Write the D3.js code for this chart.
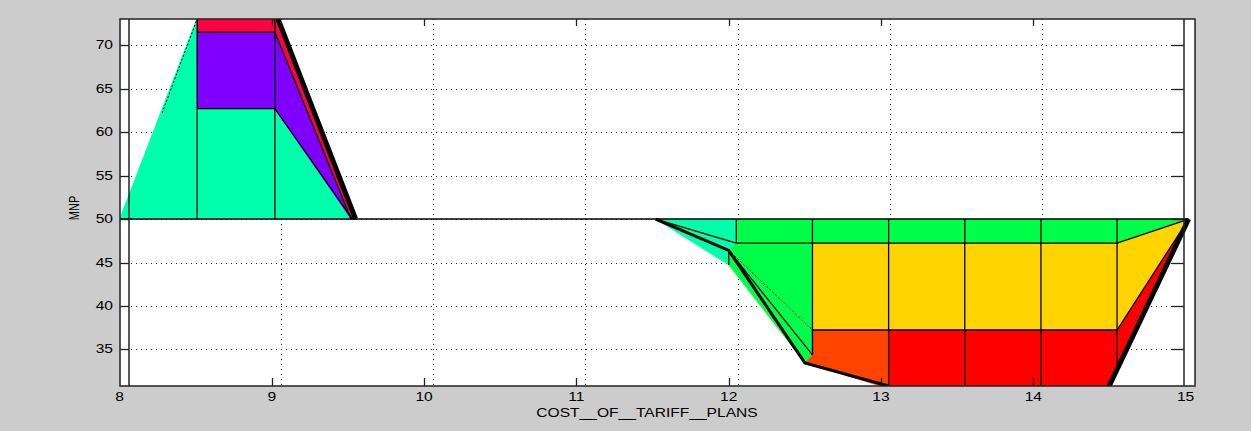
<!DOCTYPE html>
<html>
<head>
<meta charset="utf-8">
<script src="https://cdn.jsdelivr.net/npm/d3@7"></script>
<style>
  body { margin: 0; background: #cccccc; }
  svg { display: block; }
  text { font-family: "Liberation Sans", Arial, sans-serif; fill: #000; }
</style>
</head>
<body>
<svg id="chart" width="1251" height="431"></svg>
<script>
// tick values and labels
var xTicks = [8, 9, 10, 11, 12, 13, 14, 15];
var yTicks = [35, 40, 45, 50, 55, 60, 65, 70];
var xTitle = "COST__OF__TARIFF__PLANS";
var yTitle = "MNP";

// surface patches, [cost, mnp] (side view of the rule surface)
var cyanPeak = [[8, 50], [8.51, 73.2], [8.51, 62.7], [9.02, 62.7], [9.53, 50]];
var purplePeak = [[8.51, 62.7], [8.51, 71.5], [9.02, 71.5], [9.52, 50], [9.02, 62.7]];
var redPeak = [[8.51, 71.5], [8.51, 73.5], [9.03, 73.5], [9.55, 50], [9.52, 50], [9.02, 71.5]];

var cyanValley = [[11.52, 50], [12.05, 50], [12.05, 47.24], [12.0, 46.4], [12.0, 44.7]];
var greenValley = [[12.05, 50], [15.02, 50], [14.55, 47.24], [12.55, 47.24], [12.55, 34.37],
                   [12.5, 33.45], [12.0, 44.7], [12.0, 46.4], [12.05, 47.24]];
var yellowValley = [[12.55, 47.24], [14.55, 47.24], [15.02, 50], [14.55, 37.24], [12.55, 37.24]];
var orangeValley = [[12.55, 37.24], [13.05, 37.24], [13.05, 30.5], [12.5, 33.45], [12.55, 34.37]];
var redValley = [[13.05, 37.24], [14.55, 37.24], [15.02, 50], [14.5, 30.5], [13.05, 30.5]];

// mesh edges
var meshLines = [
  [[8.51, 50], [8.51, 73]],
  [[9.02, 50], [9.02, 73]],
  [[8.51, 62.7], [9.02, 62.7], [9.53, 50]],
  [[8.51, 71.5], [9.02, 71.5]],
  [[9.02, 71.5], [9.52, 50]],
  [[8, 50], [11.52, 50]],
  [[11.52, 50], [15.02, 50]],
  [[11.52, 50], [12.05, 47.24]],
  [[12.0, 46.4], [12.55, 34.37]],
  [[12.0, 44.7], [12.0, 46.4]],
  [[12.05, 50], [12.05, 47.24]],
  [[12.55, 50], [12.55, 34.37]],
  [[13.05, 50], [13.05, 30.5]],
  [[13.55, 50], [13.55, 30.5]],
  [[14.05, 50], [14.05, 30.5]],
  [[14.55, 50], [14.55, 33]],
  [[12.05, 47.24], [14.55, 47.24], [15.02, 50]],
  [[12.55, 37.24], [14.55, 37.24], [15.02, 50]]
];
var dottedLines = [
  [[12.0, 46.4], [12.55, 37.24]],
  [[8.28, 62.2], [8.51, 73]]
];
var heavyLines = [
  [[9.03, 73.5], [9.55, 50]],
  [[11.52, 50], [12.0, 46.4], [12.5, 33.45], [13.05, 30.8]],
  [[14.49, 30.5], [15.02, 50]]
];

function drawChart() {
  var pL = 120, pR = 1195, pT = 19, pB = 386;
  var innerL = 129, innerR = 1184;
  var gridShift = 9;

  var svg = d3.select("#chart");

  var x = d3.scaleLinear().domain([8, 15]).range([119.5, 1185.6]);
  var y = d3.scaleLinear().domain([30.8, 73]).range([pB, pT]);

  // plot background
  svg.append("rect")
    .attr("x", pL).attr("y", pT)
    .attr("width", pR - pL).attr("height", pB - pT)
    .attr("fill", "#fff");

  svg.append("clipPath").attr("id", "plotclip")
    .append("rect")
    .attr("x", pL).attr("y", pT)
    .attr("width", pR - pL).attr("height", pB - pT);

  // grid
  var grid = svg.append("g").attr("stroke", "#222").attr("stroke-width", 1)
    .attr("stroke-dasharray", "1,4");
  grid.selectAll("line.gx").data(xTicks.slice(1, -1)).enter().append("line")
    .attr("x1", function (d) { return Math.round(x(d) + gridShift) + 0.5; })
    .attr("x2", function (d) { return Math.round(x(d) + gridShift) + 0.5; })
    .attr("y1", pT).attr("y2", pB);
  grid.selectAll("line.gy").data(yTicks).enter().append("line")
    .attr("x1", innerL + 2).attr("x2", innerR - 12)
    .attr("y1", function (d) { return Math.round(y(d)) + 0.5; })
    .attr("y2", function (d) { return Math.round(y(d)) + 0.5; });

  // surface
  var line = d3.line()
    .x(function (d) { return x(d[0]); })
    .y(function (d) { return y(d[1]); });

  var surf = svg.append("g").attr("clip-path", "url(#plotclip)");

  var patches = [
    { pts: cyanPeak, fill: "#00ffaa" },
    { pts: purplePeak, fill: "#8000ff" },
    { pts: redPeak, fill: "#ff0040" },
    { pts: cyanValley, fill: "#00ffaa" },
    { pts: greenValley, fill: "#00ff48" },
    { pts: yellowValley, fill: "#ffd400" },
    { pts: orangeValley, fill: "#ff4400" },
    { pts: redValley, fill: "#ff0000" }
  ];

  surf.selectAll("path.patch").data(patches).enter().append("path")
    .attr("class", "patch")
    .attr("d", function (d) { return line(d.pts) + "Z"; })
    .attr("fill", function (d) { return d.fill; })
    .attr("stroke", function (d) { return d.fill; })
    .attr("stroke-width", 0.5);

  surf.selectAll("path.mesh").data(meshLines).enter().append("path")
    .attr("class", "mesh")
    .attr("d", line)
    .attr("fill", "none")
    .attr("stroke", "#000")
    .attr("stroke-width", 1.3);

  surf.selectAll("path.dot").data(dottedLines).enter().append("path")
    .attr("class", "dot")
    .attr("d", line)
    .attr("fill", "none")
    .attr("stroke", "#000")
    .attr("stroke-width", 1)
    .attr("stroke-dasharray", "2,2");

  surf.selectAll("path.heavy").data(heavyLines).enter().append("path")
    .attr("class", "heavy")
    .attr("d", line)
    .attr("fill", "none")
    .attr("stroke", "#000")
    .attr("stroke-width", function (d, i) { return i == 1 ? 3 : 5; });

  // frame
  var frame = svg.append("g").attr("stroke", "#222").attr("fill", "none").attr("stroke-width", 1.5);
  frame.append("rect")
    .attr("x", pL).attr("y", pT)
    .attr("width", pR - pL).attr("height", pB - pT);
  frame.append("line").attr("x1", innerL).attr("x2", innerL).attr("y1", pT).attr("y2", pB);
  frame.append("line").attr("x1", innerR).attr("x2", innerR).attr("y1", pT).attr("y2", pB);

  // ticks
  var ticks = svg.append("g").attr("stroke", "#222").attr("stroke-width", 1.3);
  ticks.selectAll("line.yl").data(yTicks).enter().append("line")
    .attr("x1", pL).attr("x2", innerL)
    .attr("y1", function (d) { return Math.round(y(d)) + 0.5; })
    .attr("y2", function (d) { return Math.round(y(d)) + 0.5; });
  ticks.selectAll("line.yr").data(yTicks).enter().append("line")
    .attr("x1", innerR - 12).attr("x2", innerR)
    .attr("y1", function (d) { return Math.round(y(d)) + 0.5; })
    .attr("y2", function (d) { return Math.round(y(d)) + 0.5; });
  ticks.selectAll("line.xb").data(xTicks.slice(1, -1)).enter().append("line")
    .attr("x1", function (d) { return Math.round(x(d)) + 0.5; })
    .attr("x2", function (d) { return Math.round(x(d)) + 0.5; })
    .attr("y1", pB).attr("y2", pB - 8);
  ticks.selectAll("line.xt").data(xTicks.slice(1, -1)).enter().append("line")
    .attr("x1", function (d) { return Math.round(x(d)) + 0.5; })
    .attr("x2", function (d) { return Math.round(x(d)) + 0.5; })
    .attr("y1", pT).attr("y2", pT + 7);

  // labels, the original is a stretched bitmap font
  var stretch = 1.3;
  svg.selectAll("text.ylab").data(yTicks).enter().append("text")
    .attr("transform", function (d) { return "translate(113," + (y(d) + 4) + ") scale(" + stretch + ",1)"; })
    .attr("text-anchor", "end")
    .attr("font-size", 12)
    .text(function (d) { return d; });

  svg.selectAll("text.xlab").data(xTicks).enter().append("text")
    .attr("transform", function (d) { return "translate(" + x(d) + ",401) scale(" + stretch + ",1)"; })
    .attr("text-anchor", "middle")
    .attr("font-size", 12)
    .text(function (d) { return d; });

  svg.append("text")
    .attr("transform", "translate(647,417) scale(" + stretch + ",1)")
    .attr("text-anchor", "middle")
    .attr("font-size", 12)
    .text(xTitle);

  svg.append("text")
    .attr("transform", "translate(79,208) scale(" + stretch + ",1) rotate(-90)")
    .attr("text-anchor", "middle")
    .attr("font-size", 11)
    .text(yTitle);
}

drawChart();
</script>
</body>
</html>
